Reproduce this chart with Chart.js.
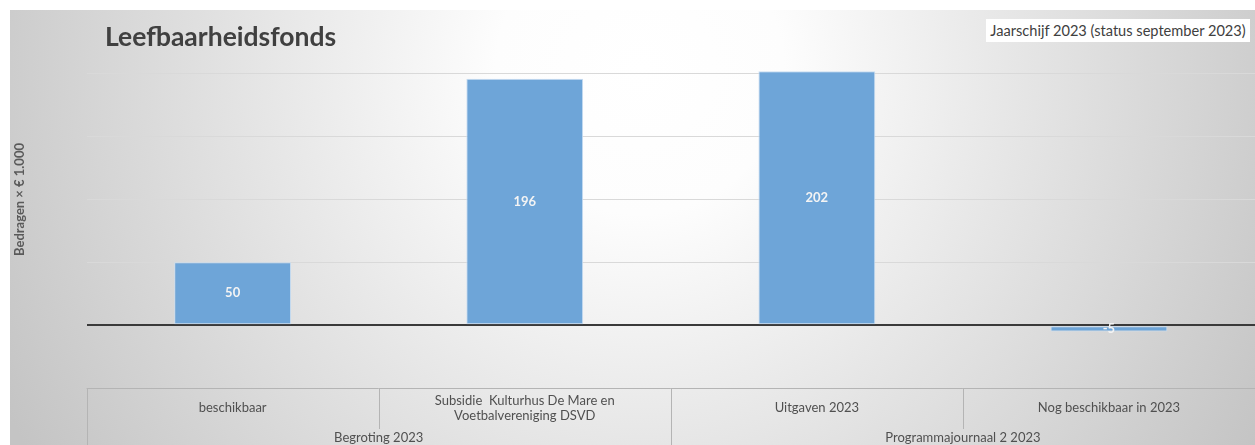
<!DOCTYPE html>
<html>
<head>
<meta charset="utf-8">
<script src="https://cdn.jsdelivr.net/npm/chart.js@4"></script>
<style>
  body { margin: 0; background: #fff; }
  #wrap { position: relative; width: 1255px; height: 445px; }
  #title { position: absolute; left: 105px; top: 23px; font: bold 26.5px Lato, sans-serif; color: #404040; line-height: 1; }
  #stamp { position: absolute; left: 986px; top: 19px; width: 264px; height: 23px; background: #fff;
           font: 14.6px Lato, sans-serif; color: #404040; line-height: 23px; text-align: center; white-space: nowrap; }
</style>
</head>
<body>
<div id="wrap">
  <canvas id="chart" width="1255" height="445"></canvas>
  <div id="title">Leefbaarheidsfonds</div>
  <div id="stamp">Jaarschijf 2023 (status september 2023)</div>
</div>
<script>
// chart data
const categories = [
    ['beschikbaar'],
    ['Subsidie  Kulturhus De Mare en', 'Voetbalvereniging DSVD'],
    ['Uitgaven 2023'],
    ['Nog beschikbaar in 2023']
];
const values = [50, 196, 202, -5];
const groups = ['Begroting 2023', 'Programmajournaal 2 2023'];
const groupSpans = [2, 2];
const yMin = -50;
const yMax = 250;
const yStep = 50;

document.addEventListener('DOMContentLoaded', () => {
    const ctx = document.getElementById('chart').getContext('2d');

    // background: white margin + radial grey gradient
    const bgPlugin = {
        id: 'bg',
        beforeDraw(chart) {
            const c = chart.ctx;
            const w = chart.width, h = chart.height;
            c.save();
            c.fillStyle = '#ffffff';
            c.fillRect(0, 0, w, h);
            const g = c.createRadialGradient(640, 70, 0, 640, 70, 720);
            g.addColorStop(0, '#ffffff');
            g.addColorStop(0.2, '#fdfdfd');
            g.addColorStop(1, '#c4c4c4');
            c.fillStyle = g;
            c.fillRect(10, 10, w - 10, h - 10);
            c.restore();
        }
    };

    // value labels centred inside each bar
    const valueLabels = {
        id: 'valueLabels',
        afterDatasetsDraw(chart) {
            const c = chart.ctx;
            const meta = chart.getDatasetMeta(0);
            c.save();
            c.font = 'bold 13px Lato, sans-serif';
            c.fillStyle = '#f4f4f4';
            c.textAlign = 'center';
            c.textBaseline = 'middle';
            meta.data.forEach((bar, i) => {
                c.fillText(values[i], bar.x, (bar.y + bar.base) / 2);
            });
            c.restore();
        }
    };

    // category table under the plot
    const catTable = {
        id: 'catTable',
        afterDraw(chart) {
            const c = chart.ctx;
            const x = chart.scales.x;
            const area = chart.chartArea;
            const colW = (area.right - area.left) / categories.length;
            const top = area.bottom;
            const rowEnd = top + 41;
            const bottom = chart.height;

            c.save();
            c.strokeStyle = '#b4b4b4';
            c.lineWidth = 1;
            c.beginPath();
            c.moveTo(area.left, top + 0.5);
            c.lineTo(area.right, top + 0.5);
            c.stroke();

            // dividers between categories
            let idx = 0;
            const groupEdges = [0];
            groupSpans.forEach(s => { idx += s; groupEdges.push(idx); });
            for (let i = 0; i <= categories.length; i++) {
                const px = Math.round(area.left + i * colW) + 0.5;
                const full = groupEdges.includes(i);
                c.beginPath();
                c.moveTo(px, top);
                c.lineTo(px, full ? bottom : rowEnd);
                c.stroke();
            }

            c.font = '13px Lato, sans-serif';
            c.fillStyle = '#505050';
            c.textAlign = 'center';
            c.textBaseline = 'middle';
            categories.forEach((lines, i) => {
                const cx = x.getPixelForValue(i);
                const lh = 15;
                const y0 = top + 20 - (lines.length - 1) * lh / 2;
                lines.forEach((t, j) => c.fillText(t, cx, y0 + j * lh));
            });

            // group labels
            let start = 0;
            groups.forEach((g, gi) => {
                const end = start + groupSpans[gi];
                const cx = area.left + (start + end) / 2 * colW;
                c.fillText(g, cx, top + 50);
                start = end;
            });
            c.restore();
        }
    };

    new Chart(ctx, {
        type: 'bar',
        data: {
            labels: categories,
            datasets: [{
                data: values,
                backgroundColor: '#6ea5d8',
                borderColor: '#c9ddf1',
                borderWidth: 1,
                borderSkipped: false,
                barPercentage: 0.4,
                categoryPercentage: 1
            }]
        },
        options: {
            responsive: false,
            animation: false,
            devicePixelRatio: 1,
            layout: { padding: { left: 10, top: 11, right: 0, bottom: 57 } },
            plugins: {
                legend: { display: false },
                tooltip: { enabled: false }
            },
            scales: {
                x: { display: false },
                y: {
                    min: yMin,
                    max: yMax,
                    ticks: { display: false, stepSize: yStep },
                    border: { display: false },
                    grid: {
                        drawTicks: false,
                        color: c => {
                            const v = c.tick.value;
                            if (v === 0) return '#3a3a3a';
                            if (v === yMax) return 'rgba(0,0,0,0)';
                            if (v === yMin) return 'rgba(0,0,0,0)';
                            return '#d9d9d9';
                        },
                        lineWidth: c => c.tick.value === 0 ? 2 : 1
                    },
                    title: {
                        display: true,
                        text: 'Bedragen × € 1.000',
                        font: { family: 'Lato', size: 13, weight: 'bold' },
                        color: '#5a5a5a',
                        padding: { top: 2, bottom: 59 }
                    }
                }
            }
        },
        plugins: [bgPlugin, valueLabels, catTable]
    });
});
</script>
</body>
</html>
